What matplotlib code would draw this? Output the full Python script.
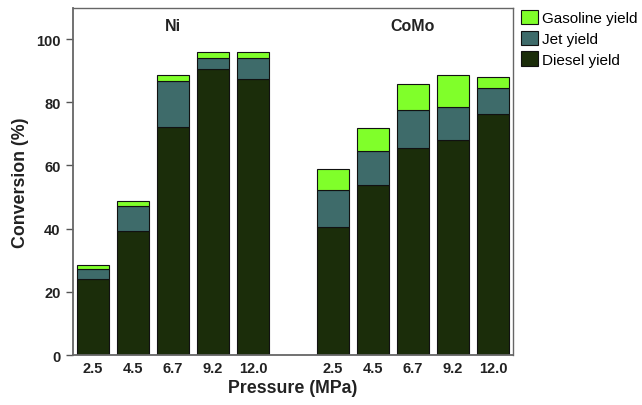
import matplotlib
matplotlib.use("Agg")
import matplotlib.pyplot as plt
import numpy as np

plt.rcParams['font.family'] = ['Liberation Sans', 'DejaVu Sans']

pressures = ["2.5", "4.5", "6.7", "9.2", "12.0"]
catalysts = ["Ni", "CoMo"]

# Yield contributions (%) for each catalyst at each pressure
diesel_ni = [24.0, 39.4, 72.1, 90.5, 87.5]
jet_ni = [3.1, 7.8, 14.6, 3.5, 6.5]
gasoline_ni = [1.5, 1.6, 2.1, 2.0, 2.0]

diesel_como = [40.4, 53.7, 65.6, 68.2, 76.4]
jet_como = [11.9, 10.8, 11.9, 10.4, 8.1]
gasoline_como = [6.5, 7.4, 8.4, 10.2, 3.4]

diesel = diesel_ni + diesel_como
jet = jet_ni + jet_como
gasoline = gasoline_ni + gasoline_como
labels = pressures + pressures

c_diesel = "#1b2d0a"
c_jet = "#3e6b6a"
c_gas = "#80ff2a"

fig = plt.figure(figsize=(6.42, 4.06), dpi=100)
ax = fig.add_axes([0.1137, 0.123, 0.6853, 0.856])

x = np.r_[np.arange(5), np.arange(5) + 6]
w = 0.8
d = np.array(diesel)
j = np.array(jet)
g = np.array(gasoline)
ax.bar(x, d, w, color=c_diesel, edgecolor="#111111", linewidth=0.8, label="Diesel yield")
ax.bar(x, j, w, bottom=d, color=c_jet, edgecolor="#111111", linewidth=0.8, label="Jet yield")
ax.bar(x, g, w, bottom=d + j, color=c_gas, edgecolor="#111111", linewidth=0.8, label="Gasoline yield")

ax.set_xlim(-0.5, 10.5)
ax.set_ylim(0, 110)
ax.set_yticks([0, 20, 40, 60, 80, 100])
ax.set_xticks(x)
ax.set_xticklabels(labels)
ax.tick_params(axis="x", length=0, pad=4)
ax.tick_params(axis="y", length=5, width=1, color="#555555", direction="out", pad=4)
for lab in ax.get_xticklabels() + ax.get_yticklabels():
    lab.set_fontweight("bold")
    lab.set_fontsize(10.5)
    lab.set_color("#222222")
for s in ax.spines.values():
    s.set_color("#666666")
    s.set_linewidth(1.0)
ax.spines["left"].set_linewidth(1.3)
ax.spines["bottom"].set_linewidth(1.3)

ax.set_xlabel("Pressure (MPa)", fontsize=12.8, fontweight="bold", color="#222222", labelpad=3)
ax.set_ylabel("Conversion (%)", fontsize=12.8, fontweight="bold", color="#222222", labelpad=5)

ax.text(2, 104.2, catalysts[0], ha="center", va="center", fontsize=11.5, fontweight="bold", color="#222222")
ax.text(8, 104.2, catalysts[1], ha="center", va="center", fontsize=11.5, fontweight="bold", color="#222222")

h, l = ax.get_legend_handles_labels()
fig.legend(h[::-1], l[::-1], loc="upper left", bbox_to_anchor=(0.797, 0.995),
           frameon=False, fontsize=11, handlelength=1.1, handleheight=1.05,
           handletextpad=0.3, labelspacing=0.35, borderaxespad=0.2)

fig.savefig("out.png", dpi=100)
